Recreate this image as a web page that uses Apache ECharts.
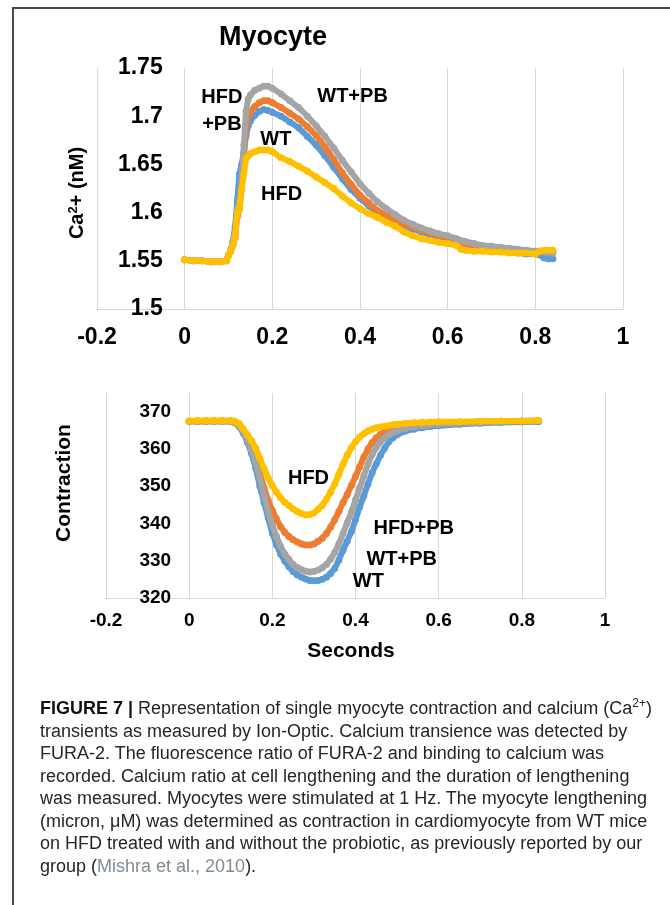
<!DOCTYPE html>
<html>
<head>
<meta charset="utf-8">
<script src="https://cdn.jsdelivr.net/npm/echarts@6/dist/echarts.min.js"></script>
<style>
html,body{margin:0;padding:0;background:#fff;}
#wrap{position:relative;width:670px;height:905px;overflow:hidden;background:#fff;}
#chart{position:absolute;left:0;top:0;width:670px;height:905px;}
#frame{position:absolute;left:12px;top:7px;width:700px;height:940px;border-left:2px solid #4a4a4a;border-top:2px solid #4a4a4a;pointer-events:none;}
#caption{position:absolute;left:40px;top:697px;font-family:"Liberation Sans",Arial,Helvetica,sans-serif;font-size:18px;line-height:22.5px;color:#262626;white-space:nowrap;}
#caption sup{font-size:12px;line-height:0;vertical-align:7px;}
#caption .cite{color:#7f8c96;}
</style>
</head>
<body>
<div id="wrap">
  <div id="chart"></div>
  <div id="frame"></div>
  <div id="caption">
    <div><b style="color:#111">FIGURE 7 |</b> Representation of single myocyte contraction and calcium (Ca<sup>2+</sup>)</div>
    <div>transients as measured by Ion-Optic. Calcium transience was detected by</div>
    <div>FURA-2. The fluorescence ratio of FURA-2 and binding to calcium was</div>
    <div>recorded. Calcium ratio at cell lengthening and the duration of lengthening</div>
    <div>was measured. Myocytes were stimulated at 1 Hz. The myocyte lengthening</div>
    <div>(micron, μM) was determined as contraction in cardiomyocyte from WT mice</div>
    <div>on HFD treated with and without the probiotic, as previously reported by our</div>
    <div>group (<span class="cite">Mishra et al., 2010</span>).</div>
  </div>
</div>
<script>
// ---------- Top chart: calcium transient (Ca2+ nM) ----------
const topX = [0, 0.02, 0.04, 0.06, 0.08, 0.095, 0.1, 0.105, 0.11, 0.115,
  0.12, 0.125, 0.13, 0.135, 0.14, 0.145, 0.15, 0.16, 0.17, 0.18,
  0.19, 0.2, 0.22, 0.24, 0.26, 0.28, 0.3, 0.32, 0.34, 0.36,
  0.38, 0.4, 0.42, 0.44, 0.46, 0.48, 0.5, 0.52, 0.54, 0.56,
  0.58, 0.6, 0.62, 0.63, 0.64, 0.66, 0.68, 0.7, 0.72, 0.74,
  0.76, 0.78, 0.8, 0.81, 0.82, 0.83, 0.84];
const topWT = [1.551, 1.550, 1.550, 1.549, 1.549, 1.550, 1.556, 1.561, 1.570, 1.585,
  1.612, 1.640, 1.650, 1.662, 1.680, 1.690, 1.695, 1.701, 1.705, 1.707,
  1.706, 1.704, 1.700, 1.694, 1.688, 1.679, 1.670, 1.659, 1.647, 1.635,
  1.624, 1.615, 1.607, 1.600, 1.595, 1.590, 1.586, 1.583, 1.580, 1.577,
  1.575, 1.572, 1.569, 1.567, 1.565, 1.563, 1.562, 1.561, 1.560, 1.559,
  1.558, 1.557, 1.557, 1.556, 1.553, 1.552, 1.552];
const topHFDPB = [1.551, 1.550, 1.550, 1.549, 1.549, 1.550, 1.556, 1.560, 1.567, 1.574,
  1.596, 1.604, 1.625, 1.655, 1.690, 1.700, 1.705, 1.710, 1.714, 1.716,
  1.716, 1.714, 1.709, 1.703, 1.697, 1.689, 1.680, 1.668, 1.655, 1.641,
  1.629, 1.618, 1.610, 1.602, 1.597, 1.592, 1.588, 1.585, 1.582, 1.579,
  1.576, 1.573, 1.570, 1.569, 1.568, 1.566, 1.565, 1.564, 1.563, 1.562,
  1.561, 1.560, 1.560, 1.560, 1.560, 1.560, 1.560];
const topWTPB = [1.551, 1.550, 1.550, 1.549, 1.549, 1.550, 1.556, 1.560, 1.568, 1.578,
  1.603, 1.612, 1.632, 1.670, 1.705, 1.718, 1.722, 1.727, 1.729, 1.731,
  1.731, 1.729, 1.723, 1.716, 1.709, 1.700, 1.690, 1.679, 1.667, 1.654,
  1.642, 1.630, 1.620, 1.611, 1.604, 1.598, 1.592, 1.588, 1.584, 1.581,
  1.578, 1.576, 1.573, 1.571, 1.570, 1.568, 1.566, 1.565, 1.564, 1.563,
  1.562, 1.561, 1.560, 1.560, 1.559, 1.558, 1.558];
const topHFD = [1.551, 1.550, 1.550, 1.549, 1.549, 1.550, 1.556, 1.560, 1.566, 1.576,
  1.600, 1.604, 1.624, 1.640, 1.656, 1.659, 1.661, 1.663, 1.665, 1.665,
  1.665, 1.663, 1.657, 1.653, 1.648, 1.643, 1.637, 1.631, 1.625, 1.617,
  1.610, 1.604, 1.599, 1.595, 1.590, 1.586, 1.580, 1.576, 1.573, 1.571,
  1.569, 1.568, 1.566, 1.562, 1.561, 1.560, 1.560, 1.559, 1.559, 1.558,
  1.558, 1.558, 1.557, 1.560, 1.561, 1.561, 1.561];

// ---------- Bottom chart: contraction ----------
const botX = [0, 0.02, 0.04, 0.06, 0.08, 0.1,
  0.11, 0.12, 0.13, 0.14, 0.15, 0.16, 0.17, 0.18, 0.19, 0.2,
  0.21, 0.22, 0.23, 0.24, 0.25, 0.26, 0.27, 0.28, 0.29, 0.3,
  0.31, 0.32, 0.33, 0.34, 0.35, 0.36, 0.37, 0.38, 0.39, 0.4,
  0.41, 0.42, 0.43, 0.44, 0.45, 0.46, 0.47, 0.48, 0.49, 0.5,
  0.52, 0.54, 0.56, 0.58, 0.6, 0.65, 0.7, 0.75, 0.8, 0.84];
const botWT = [367.4, 367.4, 367.4, 367.4, 367.4, 367.4,
  367.0, 366.0, 364.3, 361.8, 358.8, 354.8, 350.0, 345.6, 341.5, 337.4,
  334.3, 331.8, 329.9, 328.4, 327.1, 326.2, 325.6, 325.1, 324.7, 324.6,
  324.7, 325.0, 325.6, 326.6, 327.9, 330.2, 332.8, 335.2, 337.8, 341.0,
  344.4, 347.4, 350.6, 353.6, 356.0, 358.3, 360.2, 361.9, 363.0, 363.8,
  364.8, 365.3, 365.7, 366.0, 366.2, 366.6, 366.9, 367.1, 367.2, 367.3];
const botHFDPB = [367.4, 367.4, 367.4, 367.4, 367.4, 367.4,
  367.2, 366.5, 365.0, 363.0, 360.5, 357.2, 353.5, 349.5, 346.2, 343.5,
  341.2, 339.1, 337.6, 336.5, 335.6, 335.0, 334.5, 334.2, 334.2, 334.5,
  335.2, 336.0, 337.3, 339.0, 341.0, 343.2, 345.6, 347.8, 350.2, 352.6,
  355.2, 357.8, 360.0, 361.7, 363.0, 363.9, 364.6, 365.2, 365.6, 365.9,
  366.3, 366.6, 366.8, 366.9, 367.0, 367.2, 367.3, 367.4, 367.5, 367.6];
const botWTPB = [367.4, 367.4, 367.4, 367.4, 367.4, 367.4,
  367.1, 366.3, 364.8, 362.5, 359.8, 356.3, 352.0, 347.5, 343.2, 339.6,
  336.5, 333.8, 331.8, 330.3, 329.0, 328.2, 327.6, 327.2, 327.0, 327.1,
  327.5, 328.1, 329.0, 330.4, 332.2, 334.5, 337.3, 340.2, 343.0, 346.3,
  349.6, 352.8, 355.9, 358.5, 360.4, 361.9, 363.0, 363.8, 364.4, 364.9,
  365.5, 365.9, 366.2, 366.4, 366.6, 366.9, 367.1, 367.3, 367.4, 367.5];
const botHFD = [367.5, 367.6, 367.6, 367.6, 367.6, 367.6,
  367.4, 366.8, 365.4, 363.8, 362.2, 360.2, 357.5, 354.8, 352.2, 350.2,
  348.4, 346.9, 345.7, 344.8, 343.9, 343.2, 342.7, 342.3, 342.4, 342.8,
  343.8, 344.8, 346.5, 348.4, 350.6, 353.2, 355.9, 358.3, 360.3, 361.9,
  363.2, 364.1, 364.8, 365.3, 365.7, 365.9, 366.1, 366.3, 366.5, 366.6,
  366.8, 367.0, 367.1, 367.2, 367.3, 367.3, 367.4, 367.5, 367.5, 367.6];

const seriesNames = ['WT', 'HFD+PB', 'WT+PB', 'HFD'];
const seriesColors = ['#5b9bd5', '#ed7d31', '#a5a5a5', '#ffc000'];

// In-chart annotation labels (data coordinates)
const topNotes = [
  {text: 'HFD\n+PB', x: 0.085, y: 1.705},
  {text: 'WT+PB', x: 0.383, y: 1.720},
  {text: 'WT', x: 0.208, y: 1.676},
  {text: 'HFD', x: 0.221, y: 1.619}
];
const botNotes = [
  {text: 'HFD', x: 0.287, y: 352.1},
  {text: 'HFD+PB', x: 0.540, y: 338.7},
  {text: 'WT+PB', x: 0.511, y: 330.2},
  {text: 'WT', x: 0.431, y: 324.4}
];

const FONT = '"Liberation Sans", Arial, Helvetica, sans-serif';
const zip = (xs, ys) => xs.map((x, i) => [x, ys[i]]);

const topSets = [topWT, topHFDPB, topWTPB, topHFD];
const botSets = [botWT, botHFDPB, botWTPB, botHFD];

const mkSeries = (xs, sets, idx) => sets.map((ys, i) => ({
  name: seriesNames[i],
  type: 'line',
  xAxisIndex: idx, yAxisIndex: idx,
  data: zip(xs, ys),
  symbol: 'circle', symbolSize: 7, showSymbol: true, showAllSymbol: true,
  itemStyle: {color: seriesColors[i]},
  lineStyle: {color: seriesColors[i], width: 6},
  silent: true,
  emphasis: {disabled: true},
  z: 2 + i
}));

const X_MIN = -0.2, X_MAX = 1;
const grids = [
  {left: 97, top: 68, width: 526, height: 241},
  {left: 106, top: 393, width: 499, height: 205}
];
// y axis crosses the x axis at x = 0 (as in the original Excel chart)
const zeroOffset = g => -g.width * (0 - X_MIN) / (X_MAX - X_MIN);

const xAxisCommon = (fs, margin) => ({
  type: 'value', min: X_MIN, max: X_MAX, interval: 0.2,
  axisLine: {show: true, onZero: false, lineStyle: {color: '#d9d9d9', width: 1}},
  axisTick: {show: false},
  splitLine: {show: true, lineStyle: {color: '#d9d9d9', width: 1}},
  axisLabel: {fontSize: fs, fontWeight: 'bold', color: '#000', fontFamily: FONT, margin: margin}
});

const chart = echarts.init(document.getElementById('chart'), null, {renderer: 'canvas'});
const option = {
  animation: false,
  grid: grids,
  xAxis: [
    Object.assign({gridIndex: 0}, xAxisCommon(23, 17)),
    Object.assign({gridIndex: 1}, xAxisCommon(19, 13))
  ],
  yAxis: [
    {gridIndex: 0, type: 'value', min: 1.5, max: 1.75, interval: 0.05, offset: zeroOffset(grids[0]),
      axisLine: {show: false, onZero: false}, axisTick: {show: false}, splitLine: {show: false},
      axisLabel: {fontSize: 23, fontWeight: 'bold', color: '#000', fontFamily: FONT, margin: 22}},
    {gridIndex: 1, type: 'value', min: 320, max: 375, interval: 10, offset: zeroOffset(grids[1]),
      axisLine: {show: false, onZero: false}, axisTick: {show: false}, splitLine: {show: false},
      axisLabel: {fontSize: 19, fontWeight: 'bold', color: '#000', fontFamily: FONT, margin: 18,
        showMaxLabel: false, formatter: v => (v > 370 ? '' : String(v))}}
  ],
  series: mkSeries(topX, topSets, 0).concat(mkSeries(botX, botSets, 1))
};
chart.setOption(option);

const noteText = (p, text, fs) => ({
  type: 'text', x: p[0], y: p[1], z: 100, silent: true,
  style: {text: text, fontSize: fs, fontWeight: 'bold', fontFamily: FONT, fill: '#000',
    align: 'center', verticalAlign: 'middle', lineHeight: 27}
});
const graphics = [];
topNotes.forEach(n => graphics.push(noteText(chart.convertToPixel({gridIndex: 0}, [n.x, n.y]), n.text, 20)));
botNotes.forEach(n => graphics.push(noteText(chart.convertToPixel({gridIndex: 1}, [n.x, n.y]), n.text, 20)));
// Titles
graphics.push({type: 'text', x: 273, y: 38, z: 100, silent: true,
  style: {text: 'Myocyte', fontSize: 27, fontWeight: 'bold', fontFamily: FONT, fill: '#000', align: 'center', verticalAlign: 'middle'}});
graphics.push({type: 'text', x: 77, y: 193, rotation: Math.PI / 2, z: 100, silent: true,
  style: {text: 'Ca{sup|2}+ (nM)', fontSize: 20, fontWeight: 'bold', fontFamily: FONT, fill: '#000', align: 'center', verticalAlign: 'middle',
    rich: {sup: {fontSize: 13, fontWeight: 'bold', fontFamily: FONT, fill: '#000', verticalAlign: 'top'}}}});
graphics.push({type: 'text', x: 64, y: 483, rotation: Math.PI / 2, z: 100, silent: true,
  style: {text: 'Contraction', fontSize: 21, fontWeight: 'bold', fontFamily: FONT, fill: '#000', align: 'center', verticalAlign: 'middle'}});
graphics.push({type: 'text', x: 351, y: 651, z: 100, silent: true,
  style: {text: 'Seconds', fontSize: 21, fontWeight: 'bold', fontFamily: FONT, fill: '#000', align: 'center', verticalAlign: 'middle'}});
chart.setOption({graphic: graphics});
</script>
</body>
</html>
